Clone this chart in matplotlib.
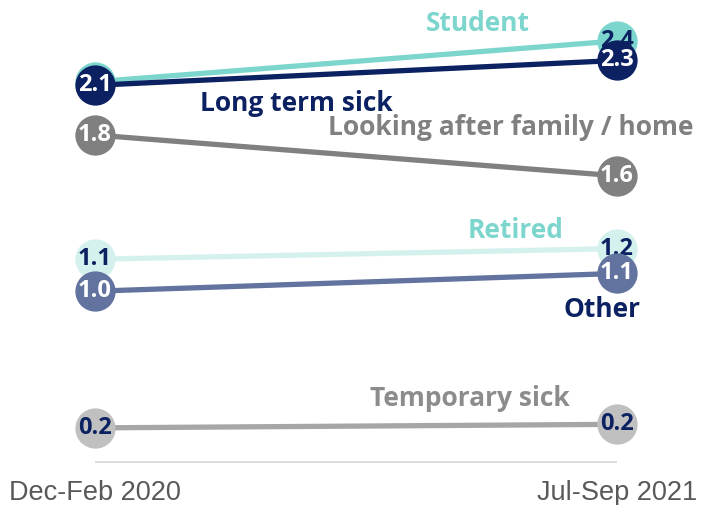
"""Slope chart: economic inactivity reasons, Dec-Feb 2020 vs Jul-Sep 2021."""

import matplotlib
matplotlib.use("Agg")
import matplotlib.pyplot as plt

periods = ["Dec-Feb 2020", "Jul-Sep 2021"]

series_names = [
    "Student",
    "Long term sick",
    "Looking after family / home",
    "Retired",
    "Other",
    "Temporary sick",
]
student = [2.14, 2.37]
long_term_sick = [2.12, 2.26]
looking_after = [1.84, 1.61]
retired = [1.14, 1.20]
other = [0.96, 1.06]
temporary_sick = [0.19, 0.21]
series_values = [student, long_term_sick, looking_after, retired, other, temporary_sick]

# style per series: line, marker, value text, name colour
styles = [
    dict(line="#7dd6cd", marker="#7dd6cd", text="#0c2161", name="#7dd6cd"),
    dict(line="#0c2161", marker="#0c2161", text="white", name="#0c2161"),
    dict(line="#808080", marker="#808080", text="white", name="#808080"),
    dict(line="#d4f1ee", marker="#d4f1ee", text="#0c2161", name="#7dd6cd"),
    dict(line="#63739f", marker="#63739f", text="white", name="#0c2161"),
    dict(line="#a6a6a6", marker="#c0c0c0", text="#0c2161", name="#8c8c8c"),
]
# name label placement (x, y in data units, alignment)
name_pos = [
    (0.734, 2.47, "center"),
    (0.201, 2.02, "left"),
    (1.146, 1.88, "right"),
    (0.805, 1.30, "center"),
    (0.971, 0.855, "center"),
    (0.718, 0.358, "center"),
]

W, H = 710, 505
fig = plt.figure(figsize=(W / 100, H / 100), dpi=100)
ax = fig.add_axes([0, 0, 1, 1])
ax.set_xlim(-95 / 522, (W - 95) / 522)
ax.set_ylim((461.6 - H) / 177.5, 461.6 / 177.5)
ax.set_axis_off()

bold = dict(family="Open Sans", fontweight="bold")
xs = [0, 1]

ax.plot(xs, [0, 0], color="#d9d9d9", lw=1.3, zorder=1, solid_capstyle="butt")

for i, (name, vals, st, pos) in enumerate(zip(series_names, series_values, styles, name_pos)):
    z = 10 + 3 * i
    ax.plot(xs, vals, color=st["line"], lw=3.8, zorder=z, solid_capstyle="butt")
    ax.plot(xs, vals, ls="none", marker="o", ms=29, mfc=st["marker"], mec="none", zorder=z + 1)
    for x, v in zip(xs, vals):
        ax.text(x, v, f"{v:.1f}", ha="center", va="center", color=st["text"],
                fontsize=17, zorder=z + 2, **bold)
    px, py, ha = pos
    ax.text(px, py, name, ha=ha, va="center", color=st["name"], fontsize=19,
            zorder=40, **bold)

for x, lab in zip(xs, periods):
    ax.text(x, -0.177, lab, ha="center", va="center", color="#595959",
            fontsize=19.5, family="Liberation Sans")

fig.savefig("out.png", dpi=100)
